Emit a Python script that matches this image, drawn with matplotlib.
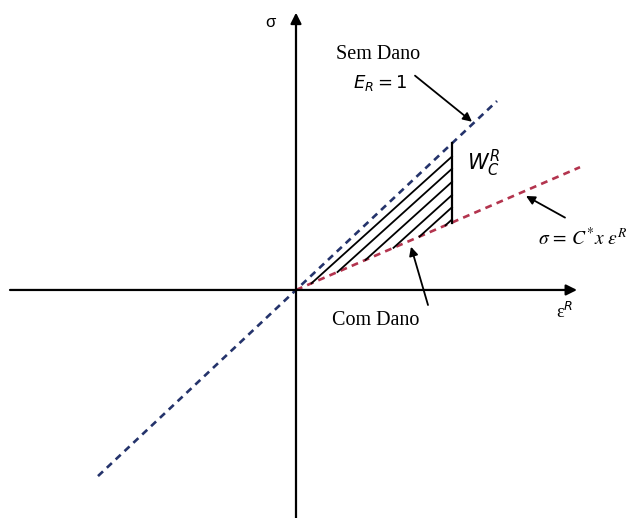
import numpy as np
import matplotlib
matplotlib.use('Agg')
import matplotlib.pyplot as plt

# material constants (normalised)
E_R = 1.0          # undamaged modulus
C_star = 0.46      # damaged slope
eps_max = 1.56     # strain where unloading line sits

# extent of the dashed lines
blue_eps = [-1.98, 2.01]
red_eps = [0.0, 2.84]

# hatch lines: level where each meets the right edge, and their slope
hatch_levels = [1.42, 1.29, 1.15, 1.01, 0.88, 0.75]
hatch_slope = 0.96

fig = plt.figure(figsize=(6.34, 5.18), dpi=100)
ax = fig.add_axes([0, 0, 1, 1])
ax.set_xlim(-2.96, 3.38)
ax.set_ylim(-2.426, 3.085)
ax.axis('off')

# axes with arrow heads
arr = dict(arrowstyle='-|>', color='k', lw=1.6, mutation_scale=16, shrinkA=0, shrinkB=0)
ax.annotate('', xy=(2.81, 0), xytext=(-2.86, 0), arrowprops=arr)
ax.annotate('', xy=(0, 2.95), xytext=(0, -2.5), arrowprops=arr)

# undamaged (blue) and damaged (red) lines
x = np.array(blue_eps)
ax.plot(x, E_R * x, color='#24336b', lw=1.9, dashes=(2.6, 2.0))
x = np.array(red_eps)
ax.plot(x, C_star * x, color='#b3344e', lw=1.9, dashes=(2.6, 2.0))

# right edge of the dissipated energy region
ax.plot([eps_max, eps_max], [C_star * eps_max, E_R * eps_max], color='k', lw=1.6)

# hatching between the two lines
for lev in hatch_levels:
    # start where the line crosses the red one
    x0 = (lev - hatch_slope * eps_max) / (C_star - hatch_slope)
    ax.plot([x0, eps_max], [C_star * x0, lev], color='k', lw=1.3)

# labels
ax.text(-0.26, 2.85, 'σ', fontsize=12, family='Liberation Sans', ha='center', va='center')
ax.text(2.69, -0.23, 'ε$^{R}$', fontsize=13, family='Liberation Serif', ha='center', va='center',
        math_fontfamily='dejavusans')
ax.text(0.82, 2.50, 'Sem Dano', fontsize=14.5, family='Liberation Serif', ha='center', va='center')
ax.text(0.84, 2.20, '$E_R = 1$', fontsize=13, ha='center', va='center', math_fontfamily='dejavusans')
ax.text(1.87, 1.35, '$W_C^R$', fontsize=15, ha='center', va='center', math_fontfamily='dejavusans')
ax.text(2.87, 0.55, r'$\sigma\, =\, C^{*}x\ \varepsilon^{R}$', fontsize=14, ha='center', va='center',
        math_fontfamily='stix')
ax.text(0.80, -0.33, 'Com Dano', fontsize=14.5, family='Liberation Serif', ha='center', va='center')

# pointer arrows
ptr = dict(arrowstyle='-|>', color='k', lw=1.3, mutation_scale=13, shrinkA=0, shrinkB=0)
ax.annotate('', xy=(1.76, 1.79), xytext=(1.19, 2.28), arrowprops=ptr)
ax.annotate('', xy=(2.30, 1.00), xytext=(2.69, 0.77), arrowprops=ptr)
ax.annotate('', xy=(1.15, 0.46), xytext=(1.32, -0.16), arrowprops=ptr)

fig.savefig('out.png', dpi=100, facecolor='white')
